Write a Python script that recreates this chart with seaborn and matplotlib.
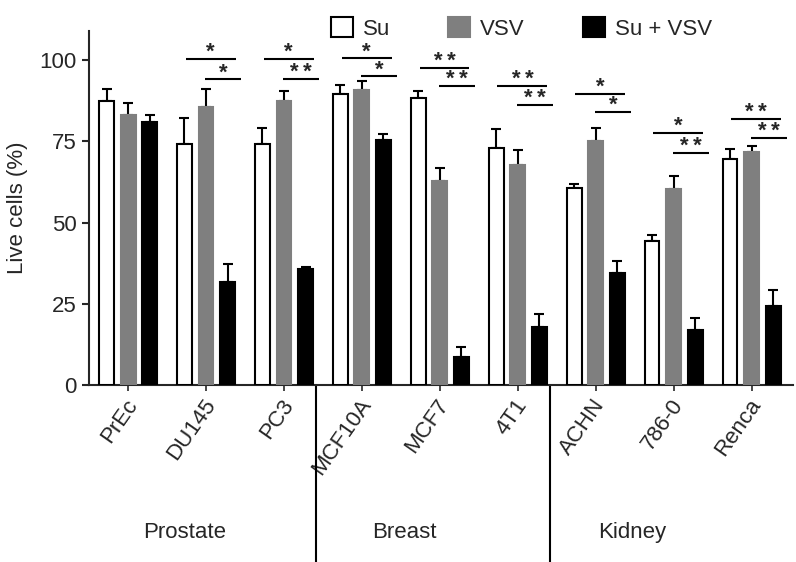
import numpy as np
import pandas as pd
import seaborn as sns
import matplotlib
matplotlib.use("Agg")
import matplotlib.pyplot as plt
from matplotlib.patches import Patch
from matplotlib.transforms import blended_transform_factory, ScaledTranslation

# ---------------- data ----------------
cell_lines = ["PrEc", "DU145", "PC3", "MCF10A", "MCF7", "4T1", "ACHN", "786-0", "Renca"]
tissues = ["Prostate", "Breast", "Kidney"]
treatments = ["Su", "VSV", "Su + VSV"]

su_mean = [87.4, 74.1, 74.3, 89.5, 88.2, 72.9, 60.7, 44.4, 69.7]
su_err = [3.8, 8.2, 4.8, 3.0, 2.2, 5.8, 1.2, 1.9, 2.9]
vsv_mean = [83.0, 85.6, 87.4, 90.8, 62.8, 67.6, 75.1, 60.2, 71.7]
vsv_err = [3.9, 5.6, 3.2, 2.9, 3.9, 4.8, 3.9, 4.1, 1.9]
combo_mean = [80.9, 31.7, 35.8, 75.3, 8.5, 17.7, 34.6, 17.0, 24.4]
combo_err = [2.3, 5.4, 0.4, 2.0, 3.3, 4.2, 3.6, 3.7, 4.8]

sig_groups = ["DU145", "PC3", "MCF10A", "MCF7", "4T1", "ACHN", "786-0", "Renca"]
sig_upper_y = [100.5, 100.5, 100.6, 97.7, 91.9, 89.7, 77.7, 81.8]
sig_upper_label = ["*", "*", "*", "**", "**", "*", "*", "**"]
sig_lower_y = [94.1, 94.1, 95.0, 91.9, 86.2, 84.0, 71.4, 76.0]
sig_lower_label = ["*", "**", "*", "**", "**", "*", "**", "**"]

yticks = [0, 25, 50, 75, 100]

# ---------------- layout / style constants ----------------
colors = {"Su": "white", "VSV": "#7f7f7f", "Su + VSV": "black"}
edges = {"Su": "black", "VSV": "#7f7f7f", "Su + VSV": "black"}
tissue_label_x = [0.73, 3.54, 6.47]
divider_x = [2.41, 5.41]
FS = 16

sns.set_style("ticks")
plt.rcParams["font.family"] = ["Liberation Sans", "DejaVu Sans"]

means = {"Su": su_mean, "VSV": vsv_mean, "Su + VSV": combo_mean}
errs = {"Su": su_err, "VSV": vsv_err, "Su + VSV": combo_err}
rows = []
for t in treatments:
    for c, m in zip(cell_lines, means[t]):
        rows.append({"cell_line": c, "treatment": t, "value": m})
df = pd.DataFrame(rows)

fig = plt.figure(figsize=(7.96, 5.62), dpi=100)
ax = fig.add_subplot(111)
fig.subplots_adjust(left=0.112, right=0.996, bottom=0.315, top=0.945)

sns.barplot(data=df, x="cell_line", y="value", hue="treatment",
            order=cell_lines, hue_order=treatments, palette=colors,
            width=0.83, gap=0.31, errorbar=None, legend=False, ax=ax,
            zorder=3)

for t, cont in zip(treatments, ax.containers):
    bars = sorted(cont.patches, key=lambda p: p.get_x())
    xs = []
    for b in bars:
        b.set_edgecolor(edges[t])
        b.set_linewidth(1.5)
        xs.append(b.get_x() + b.get_width() / 2)
    ax.errorbar(xs, means[t], yerr=[np.zeros(len(xs)), errs[t]], fmt="none",
                ecolor="black", elinewidth=1.5, capsize=3.5, capthick=1.5,
                zorder=2)

# significance bars
def star_text(x, y, s):
    ax.text(x, y + 0.3, s.replace("**", "*\u2009*"), ha="center", va="baseline",
            fontsize=FS, fontweight="bold", zorder=4)

for g, yu, lu, yl, ll in zip(sig_groups, sig_upper_y, sig_upper_label,
                             sig_lower_y, sig_lower_label):
    xc = cell_lines.index(g)
    x0, x1 = xc - 0.26, xc + 0.38
    ax.plot([x0, x1], [yu, yu], color="black", lw=1.5, solid_capstyle="butt",
            clip_on=False, zorder=4)
    star_text((x0 + x1) / 2, yu, lu)
    x0, x1 = xc - 0.01, xc + 0.45
    ax.plot([x0, x1], [yl, yl], color="black", lw=1.5, solid_capstyle="butt",
            clip_on=False, zorder=4)
    star_text((x0 + x1) / 2, yl, ll)

ax.set_xlim(-0.5, 8.53)
ax.set_ylim(0, 109)
ax.set_yticks(yticks)
ax.set_xlabel("")
ax.set_ylabel("Live cells (%)", fontsize=FS, labelpad=8)
sns.despine(ax=ax)
for s in ["left", "bottom"]:
    ax.spines[s].set_linewidth(1.5)
ax.tick_params(axis="y", labelsize=FS, length=5, width=1.5, pad=4)
ax.tick_params(axis="x", labelsize=FS, length=4, width=1.2, pad=4)
shift = ScaledTranslation(0.05, -0.05, fig.dpi_scale_trans)
for lab in ax.get_xticklabels():
    lab.set_rotation(55)
    lab.set_ha("right")
    lab.set_va("center")
    lab.set_rotation_mode("anchor")
    lab.set_transform(lab.get_transform() + shift)

# group dividers and tissue labels
trans = blended_transform_factory(ax.transData, ax.transAxes)
for dx in divider_x:
    ax.plot([dx, dx], [0, -0.5], color="black", lw=1.5, transform=trans,
            clip_on=False)
for tx, name in zip(tissue_label_x, tissues):
    ax.text(tx, -0.418, name, ha="center", va="center", fontsize=FS,
            transform=trans)

handles = [Patch(facecolor=colors[t], edgecolor=edges[t], linewidth=1.5)
           for t in treatments]
fig.legend(handles, treatments, loc="upper center", bbox_to_anchor=(0.655, 1.005),
           ncol=3, frameon=False, fontsize=FS, handlelength=1.0,
           handleheight=1.0, handletextpad=0.45, columnspacing=2.6)

fig.savefig("out.png", dpi=100)
